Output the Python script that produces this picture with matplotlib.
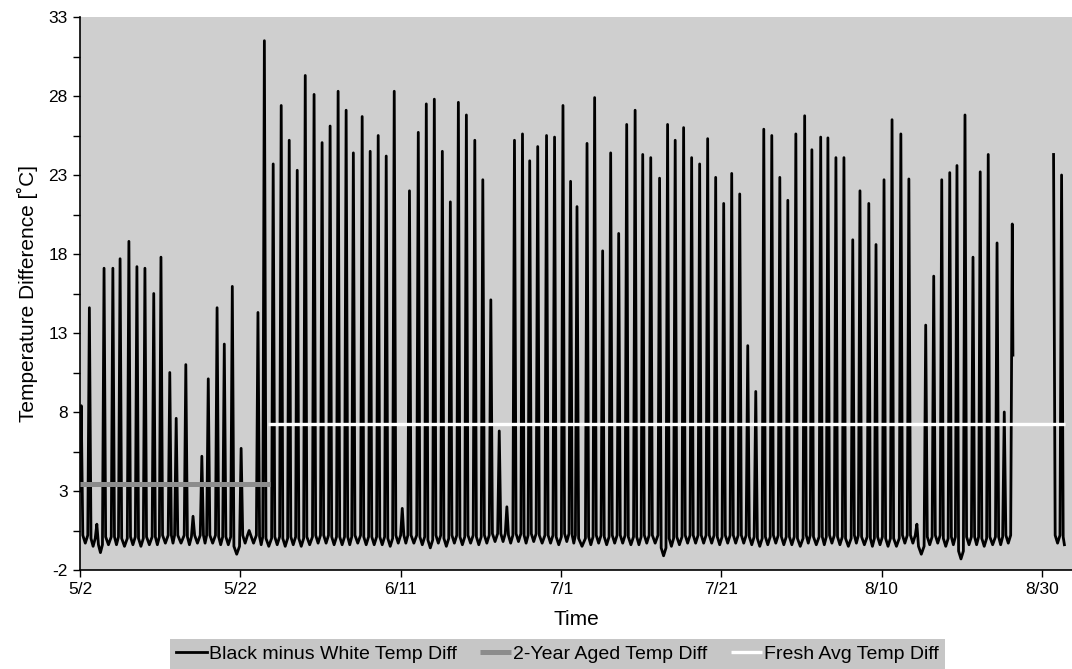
import matplotlib.pyplot as plt
import numpy as np

plt.rcParams['font.family'] = ['Liberation Sans', 'DejaVu Sans']
plt.rcParams['axes.unicode_minus'] = False

# day 0 = 5/2 ; peak times and daily peak values
peak_time = [0.15, 1.17, 2.1, 3.0, 4.1, 5.0, 6.1, 7.1, 8.1, 9.2, 10.1, 11.2, 12.0, 13.2, 14.1, 15.2,
             16.0, 17.1, 18.0, 19.0, 20.1, 21.1, 22.2, 23.0, 24.1, 25.1, 26.1, 27.1, 28.1, 29.2, 30.2,
             31.2, 32.2, 33.2, 34.1, 35.2, 36.2, 37.2, 38.2, 39.2, 40.2, 41.1, 42.2, 43.2, 44.2, 45.2,
             46.2, 47.2, 48.2, 49.25, 50.25, 51.25, 52.3, 53.25, 54.2, 55.2, 56.1, 57.1, 58.2, 59.2,
             60.25, 61.2, 62.0, 63.25, 64.2, 65.2, 66.2, 67.2, 68.2, 69.25, 70.2, 71.2, 72.3, 73.3,
             74.25, 75.3, 76.3, 77.3, 78.3, 79.3, 80.3, 81.3, 82.3, 83.3, 84.3, 85.3, 86.3, 87.3, 88.3,
             89.3, 90.4, 91.3, 92.4, 93.3, 94.3, 95.3, 96.4, 97.3, 98.4, 99.3, 100.3, 101.3, 102.4,
             103.4, 104.4, 105.5, 106.5, 107.5, 108.5, 109.4, 110.4, 111.4, 112.3, 113.3, 114.4, 115.3,
             116.3]
peak_val = [8.4, 14.6, 0.9, 17.1, 17.1, 17.7, 18.8, 17.2, 17.1, 15.5, 17.8, 10.5, 7.6, 11.0, 1.4, 5.2,
            10.1, 14.6, 12.3, 15.95, 5.7, 0.5, 14.3, 31.5, 23.7, 27.4, 25.2, 23.3, 29.3, 28.1, 25.05,
            26.1, 28.3, 27.1, 24.4, 26.7, 24.5, 25.5, 24.2, 28.3, 1.9, 22.0, 25.7, 27.5, 27.8, 24.5,
            21.3, 27.6, 26.8, 25.2, 22.7, 15.1, 6.8, 2.0, 25.2, 25.6, 23.9, 24.8, 25.5, 25.4,
            27.4, 22.6, 21.0, 25.0, 27.9, 18.2, 24.4, 19.3, 26.2, 27.1, 24.3, 24.1, 22.8, 26.2,
            25.2, 26.0, 24.1, 23.7, 25.3, 22.85, 21.2, 23.1, 21.8, 12.2, 9.3, 25.9, 25.5, 22.85, 21.4,
            25.6, 26.75, 24.6, 25.4, 25.35, 24.1, 24.1, 18.9, 22.0, 21.2, 18.6, 22.7, 26.5, 25.6,
            22.75, 0.9, 13.5, 16.6, 22.7, 23.15, 23.6, 26.8, 17.8, 23.2, 24.3, 18.7, 8.0,
            19.9]
# night-time minimum following each peak
trough_val = [-0.3, -0.5, -0.9, -0.4, -0.4, -0.5, -0.4, -0.5, -0.4, -0.4, -0.3, -0.3, -0.3, -0.4, -0.3, -0.3,
              -0.3, -0.4, -0.4, -1.0, -0.3, -0.3, -0.4, -0.5, -0.4, -0.5, -0.4, -0.5, -0.4, -0.3, -0.3,
              -0.4, -0.4, -0.4, -0.3, -0.4, -0.4, -0.4, -0.5, -0.3, -0.3, -0.3, -0.4, -0.6, -0.3, -0.5,
              -0.3, -0.4, -0.3, -0.4, -0.3, -0.2, -0.2, -0.3, -0.2, -0.3, -0.2, -0.3, -0.3, -0.4,
              -0.2, -0.3, -0.5, -0.4, -0.3, -0.4, -0.3, -0.3, -0.4, -0.4, -0.3, -0.3, -1.1, -0.5,
              -0.4, -0.3, -0.3, -0.3, -0.3, -0.4, -0.3, -0.3, -0.3, -0.4, -0.5, -0.4, -0.3, -0.4, -0.4,
              -0.5, -0.3, -0.4, -0.4, -0.3, -0.4, -0.5, -0.3, -0.4, -0.5, -0.4, -0.5, -0.5, -0.3,
              -0.3, -1.0, -0.4, -0.3, -0.5, -0.4, -1.3, -0.4, -0.4, -0.5, -0.4, -0.4, -0.3,
              -0.3]
start_val = 3.0
end_time, end_val = 116.38, 11.6

# short stretch after the logging gap
late_time = [121.45, 122.45]
late_val = [24.3, 23.0]
late_trough = [-0.3, -0.4]

aged_avg = 3.44      # 2-Year Aged Temp Diff
aged_span = (0.0, 23.75)
fresh_avg = 7.25     # Fresh Avg Temp Diff
fresh_span = (23.5, 122.9)

tick_days = [0, 20, 40, 60, 80, 100, 120]
tick_labels = ['5/2', '5/22', '6/11', '7/1', '7/21', '8/10', '8/30']


def build(times, vals, troughs, w=0.2):
    xs, ys = [], []
    for i in range(len(times)):
        t, v = times[i], vals[i]
        lo_before = troughs[i - 1] if i > 0 else troughs[i]
        xs += [t - w, t, t + w]
        ys += [lo_before + 0.5, v, troughs[i] + 0.5]
        if i < len(times) - 1:
            xs.append((t + times[i + 1]) / 2)
            ys.append(troughs[i])
    return xs, ys


x1, y1 = build(peak_time, peak_val, trough_val)
x1 = [0.0] + x1[1:-1] + [end_time]
y1 = [start_val] + y1[1:-1] + [end_val]
x2, y2 = build(late_time, late_val, late_trough)
x2 = x2[1:] + [late_time[-1] + 0.35]
y2 = y2[1:] + [late_trough[-1]]

xs = x1 + [np.nan] + x2
ys = y1 + [np.nan] + y2

fig = plt.figure(figsize=(10.72, 6.69), dpi=100)
ax = fig.add_axes([80 / 1072, 99 / 669, 992 / 1072, 553 / 669])
ax.set_facecolor('#cfcfcf')

ax.plot(xs, ys, color='black', lw=2.0, label='Black minus White Temp Diff', zorder=2)
ax.plot(aged_span, [aged_avg, aged_avg], color='#8c8c8c', lw=3.6, label='2-Year Aged Temp Diff',
        zorder=3, solid_capstyle='butt')
ax.plot(fresh_span, [fresh_avg, fresh_avg], color='white', lw=2.4, label='Fresh Avg Temp Diff',
        zorder=3, solid_capstyle='butt')

ax.set_xlim(0, 123.75)
ax.set_ylim(-2, 33)
ax.set_xticks(tick_days)
ax.set_xticklabels(tick_labels)
ax.set_yticks(np.arange(-2, 34, 5))
ax.set_yticks(np.arange(0.5, 33, 5), minor=True)
ax.tick_params(axis='both', which='major', direction='out', length=5, width=1, labelsize=12.5,
               colors='black', pad=4)
ax.tick_params(axis='y', which='minor', direction='out', length=5, width=1)
for s in ['top', 'right']:
    ax.spines[s].set_visible(False)
for s in ['left', 'bottom']:
    ax.spines[s].set_linewidth(1.2)

ax.set_ylabel('Temperature Difference [˚C]', fontsize=15, labelpad=7)
ax.set_xlabel('Time', fontsize=15, labelpad=9)

leg = fig.legend(loc='lower center', bbox_to_anchor=(0.52, -0.014), ncol=3, fontsize=14,
                 frameon=True, fancybox=False, facecolor='#c6c6c6', edgecolor='none', framealpha=1,
                 handlelength=1.6, handletextpad=0.1, columnspacing=1.2, borderpad=0.3)

fig.savefig('out.png', dpi=100)
